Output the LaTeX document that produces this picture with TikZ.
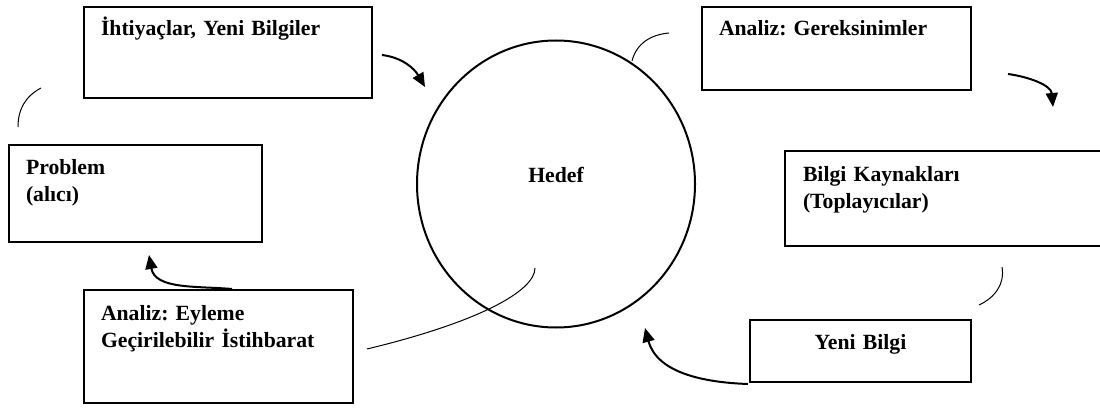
\documentclass[tikz,border=0pt]{standalone}
\usepackage{fontspec}
\setmainfont{Liberation Serif}
\usetikzlibrary{shapes.geometric,arrows.meta}
\frenchspacing

\begin{document}
\begin{tikzpicture}[
  x=1pt, y=1pt,
  every node/.style = {font=\bfseries\fontsize{21.7}{27}\selectfont},
  kutu/.style = {draw, line width=2pt, anchor=north west, inner xsep=17pt,
                 inner ysep=0pt, align=left, text height=29pt},
  ok/.style = {line width=2pt, -{Triangle[length=14pt,width=12pt]}},
  yay/.style = {line width=1pt}
]
  \clip (0,0) rectangle (1100,-409);
  % boxes
  \node[kutu, text width=254pt, text depth=62pt] (ihtiyac) at (83,-6) {İhtiyaçlar, Yeni Bilgiler};
  \node[kutu, text width=235pt, text depth=54pt] (gereksinim) at (701,-6) {Analiz: Gereksinimler};
  \node[kutu, text width=219pt, text depth=68pt] (problem) at (8,-144) {Problem\\(alıcı)};
  \node[kutu, text width=287pt, text depth=65pt, text height=30pt, inner xsep=18pt] (kaynak) at (784,-150) {Bilgi Kaynakları\\(Toplayıcılar)};
  \node[kutu, text width=235pt, text depth=83pt, text height=30pt] (eyleme) at (83,-289) {Analiz: Eyleme\\Geçirilebilir İstihbarat};
  \node[kutu, text width=187pt, text depth=33pt, align=center] (yeni) at (749,-319) {Yeni Bilgi};
  \node[draw, ellipse, line width=2pt, minimum width=278pt, minimum height=287pt,
        inner sep=0pt, text height=12pt, text depth=16pt] (hedef) at (556,-184) {Hedef};

  % free ends
  \coordinate (o1a) at (382,-55);   \coordinate (o1b) at (425,-87);
  \coordinate (o2a) at (1008,-74);  \coordinate (o2b) at (1053,-107);
  \coordinate (o3a) at (748,-384);  \coordinate (o3b) at (645,-328);
  \coordinate (o4a) at (232,-289);  \coordinate (o4b) at (149,-255);
  \coordinate (y1a) at (41,-88);    \coordinate (y1b) at (18,-127);
  \coordinate (y2a) at (669,-33);   \coordinate (y2b) at (632,-61);
  \coordinate (y3a) at (1002,-267); \coordinate (y3b) at (979,-305);
  \coordinate (y4a) at (535,-268);  \coordinate (y4b) at (367,-349);

  % arrows
  \draw[ok] (o1a) to[out=-7,in=120] (o1b);
  \draw[ok] (o2a) to[out=-8,in=95] (o2b);
  \draw[ok] (o3a) to[out=178,in=-75] (o3b);
  \draw[ok] (o4a) to[out=175,in=-80] (o4b);

  % thin arcs
  \draw[yay] (y1a) to[out=208,in=90] (y1b);
  \draw[yay] (y2a) to[out=185,in=76] (y2b);
  \draw[yay] (y3a) to[out=280,in=25] (y3b);
  \draw[yay] (y4a) .. controls (535,-292) and (475,-323) .. (y4b);
\end{tikzpicture}
\end{document}
